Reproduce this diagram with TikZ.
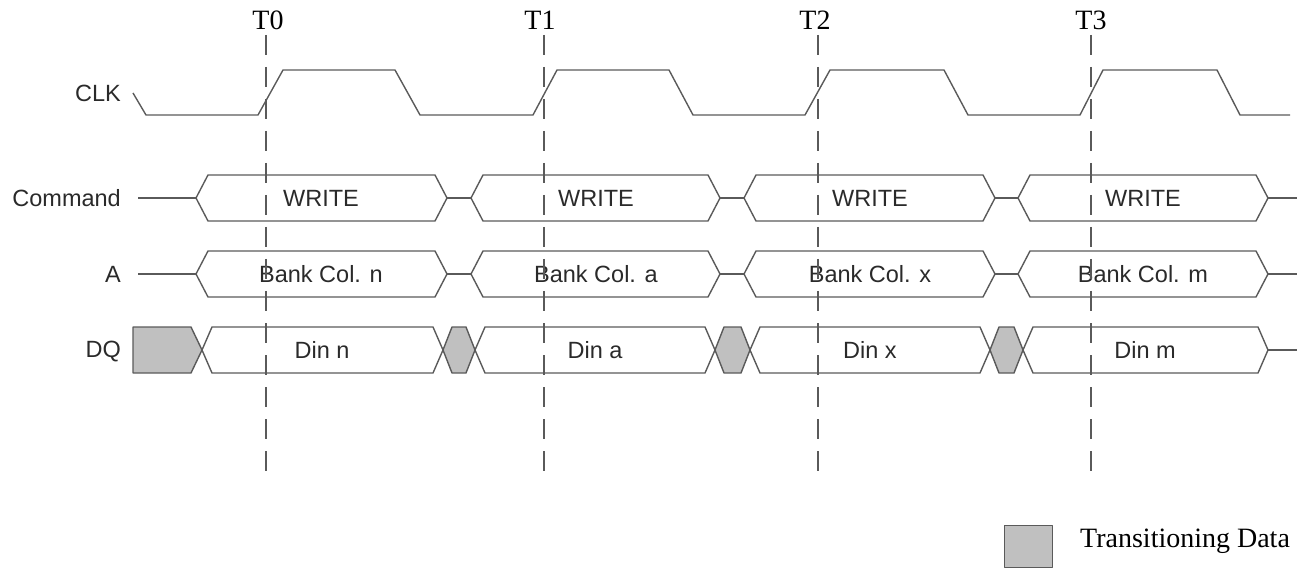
\documentclass[tikz,border=0pt]{standalone}
\usepackage{fontspec}
\setmainfont{Liberation Serif}
\newfontfamily\arialf{Liberation Sans}
\definecolor{wline}{HTML}{5A5A5A}
\definecolor{wfill}{HTML}{C0C0C0}
\definecolor{wtext}{HTML}{2A2A2A}
\tikzset{
  wave/.style={draw=wline, line width=1.4pt, line join=round},
  greyshape/.style={wave, fill=wfill},
  sig/.style={font=\arialf\fontsize{23.5}{27}\selectfont, text=wtext, inner sep=0pt},
  tlab/.style={font=\fontsize{28}{31}\selectfont, text=black, inner sep=0pt},
  tickline/.style={draw=wline, line width=1.2pt, dash pattern=on 20pt off 12pt},
}
% bus hexagon: x1, x2, y-centre, slope width
\newcommand\wbushex[4]{%
  \draw[wave] (#1,#3) -- ({#1+#4},{#3-23}) -- ({#2-#4},{#3-23}) -- (#2,#3)
     -- ({#2-#4},{#3+23}) -- ({#1+#4},{#3+23}) -- cycle;}
\newcommand\wgreyhex[4]{%
  \draw[greyshape] (#1,#3) -- ({#1+#4},{#3-23}) -- ({#2-#4},{#3-23}) -- (#2,#3)
     -- ({#2-#4},{#3+23}) -- ({#1+#4},{#3+23}) -- cycle;}
\begin{document}
\begin{tikzpicture}[x=1pt,y=-1pt]
\useasboundingbox (0,0) rectangle (1309,569);

% signal names
\node[sig, anchor=east] (nclk) at (121,93) {CLK};
\node[sig, anchor=east] (ncmd) at (121,198) {Command};
\node[sig, anchor=east] (na) at (121,274) {A};
\node[sig, anchor=east] (ndq) at (121,352) {DQ};

% clock
\draw[wave] (133,93) -- (146,115) -- (258,115) -- (283,70) -- (395,70) -- (420,115)
  -- (533,115) -- (557,70) -- (669,70) -- (693,115)
  -- (805,115) -- (830,70) -- (944,70) -- (968,115)
  -- (1080,115) -- (1103,70) -- (1217,70) -- (1240,115) -- (1290,115);

% Command row
\draw[wave] (138,198) -- (196,198);
\wbushex{196}{447}{198}{12}
\draw[wave] (447,198) -- (471,198);
\wbushex{471}{720}{198}{12}
\draw[wave] (720,198) -- (744,198);
\wbushex{744}{995}{198}{12}
\draw[wave] (995,198) -- (1018,198);
\wbushex{1018}{1268}{198}{12}
\draw[wave] (1268,198) -- (1297,198);
\node[sig] (w0) at (321,198) {WRITE};
\node[sig] (w1) at (596,198) {WRITE};
\node[sig] (w2) at (870,198) {WRITE};
\node[sig] (w3) at (1143,198) {WRITE};

% A row
\draw[wave] (138,274) -- (196,274);
\wbushex{196}{447}{274}{12}
\draw[wave] (447,274) -- (471,274);
\wbushex{471}{720}{274}{12}
\draw[wave] (720,274) -- (744,274);
\wbushex{744}{995}{274}{12}
\draw[wave] (995,274) -- (1018,274);
\wbushex{1018}{1268}{274}{12}
\draw[wave] (1268,274) -- (1297,274);
\node[sig] (a0) at (321,274) {Bank Col. n};
\node[sig] (a1) at (596,274) {Bank Col. a};
\node[sig] (a2) at (870,274) {Bank Col. x};
\node[sig] (a3) at (1143,274) {Bank Col. m};

% DQ row
\draw[greyshape] (133,327) -- (191,327) -- (202,350) -- (191,373) -- (133,373) -- cycle;
\wbushex{202}{443}{350}{10}
\wgreyhex{443}{475}{350}{9}
\wbushex{475}{715}{350}{10}
\wgreyhex{715}{750}{350}{9}
\wbushex{750}{990}{350}{10}
\wgreyhex{990}{1023}{350}{9}
\wbushex{1023}{1268}{350}{10}
\draw[wave] (1268,350) -- (1297,350);
\node[sig] (d0) at (322,350) {Din n};
\node[sig] (d1) at (595,350) {Din a};
\node[sig] (d2) at (870,350) {Din x};
\node[sig] (d3) at (1145,350) {Din m};

% time markers
\node[tlab] (t0) at (268,20) {T0};
\node[tlab] (t1) at (540,20) {T1};
\node[tlab] (t2) at (815,20) {T2};
\node[tlab] (t3) at (1091,20) {T3};
\draw[tickline] (266,35) -- (266,475);
\draw[tickline] (544,35) -- (544,475);
\draw[tickline] (818,35) -- (818,475);
\draw[tickline] (1091,35) -- (1091,475);

% legend
\draw[greyshape, line width=1pt] (1004,525) rectangle (1052,567);
\node[tlab, anchor=base west] (leg) at (1080,547) {Transitioning Data};
\end{tikzpicture}
\end{document}
